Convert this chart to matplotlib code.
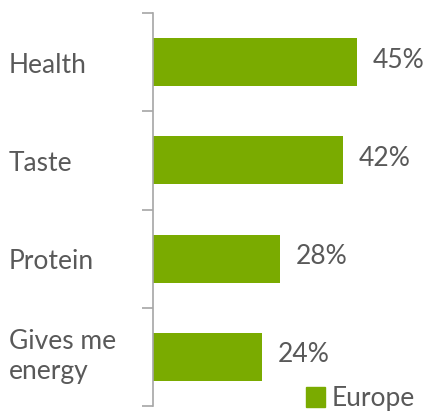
import matplotlib.pyplot as plt
import matplotlib.patches as mpatches

categories = ['Health', 'Taste', 'Protein', 'Gives me\nenergy']
values = [45, 42, 28, 24]
series_name = 'Europe'

green = '#7AAB00'
text_gray = '#595959'
axis_gray = '#A6A6A6'

plt.rcParams['font.family'] = ['Lato', 'DejaVu Sans']

fig = plt.figure(figsize=(4.31, 4.16), dpi=100)
W, H = 431, 416
ax = fig.add_axes([153 / W, (H - 406) / H, (431 - 153) / W, (406 - 13) / H])

y = list(range(len(categories)))
ax.barh(y, values, height=0.49, color=green, zorder=2)
ax.set_ylim(len(categories) - 0.5, -0.5)
ax.set_xlim(0, 61.4)

for yi, v in zip(y, values):
    ax.text(v + 3.5, yi - 0.02, f'{v}%', va='center', ha='left', fontsize=19, color=text_gray)

# category labels sit at the left edge of the figure
for yi, lab in zip(y, categories):
    off = 16 if '\n' not in lab else 13
    fig.text(9 / W, (H - (off + 98.25 * (yi + 0.5))) / H, lab, ha='left', va='center',
             fontsize=19, color=text_gray, linespacing=1.25)

for s in ['top', 'right', 'bottom']:
    ax.spines[s].set_visible(False)
ax.spines['left'].set_color(axis_gray)
ax.spines['left'].set_linewidth(1.2)
ax.set_xticks([])
ax.set_yticks([-0.5, 0.5, 1.5, 2.5, 3.5])
ax.set_yticklabels([])
ax.tick_params(axis='y', length=8, width=1.2, color=axis_gray)

handle = mpatches.Patch(color=green, label=series_name)
fig.legend(handles=[handle], loc='lower right', bbox_to_anchor=(439 / W, -19 / H), frameon=False,
           fontsize=19, handlelength=0.75, handleheight=0.75, handletextpad=0.25, labelcolor=text_gray)

plt.savefig('out.png', dpi=100)
plt.close()
